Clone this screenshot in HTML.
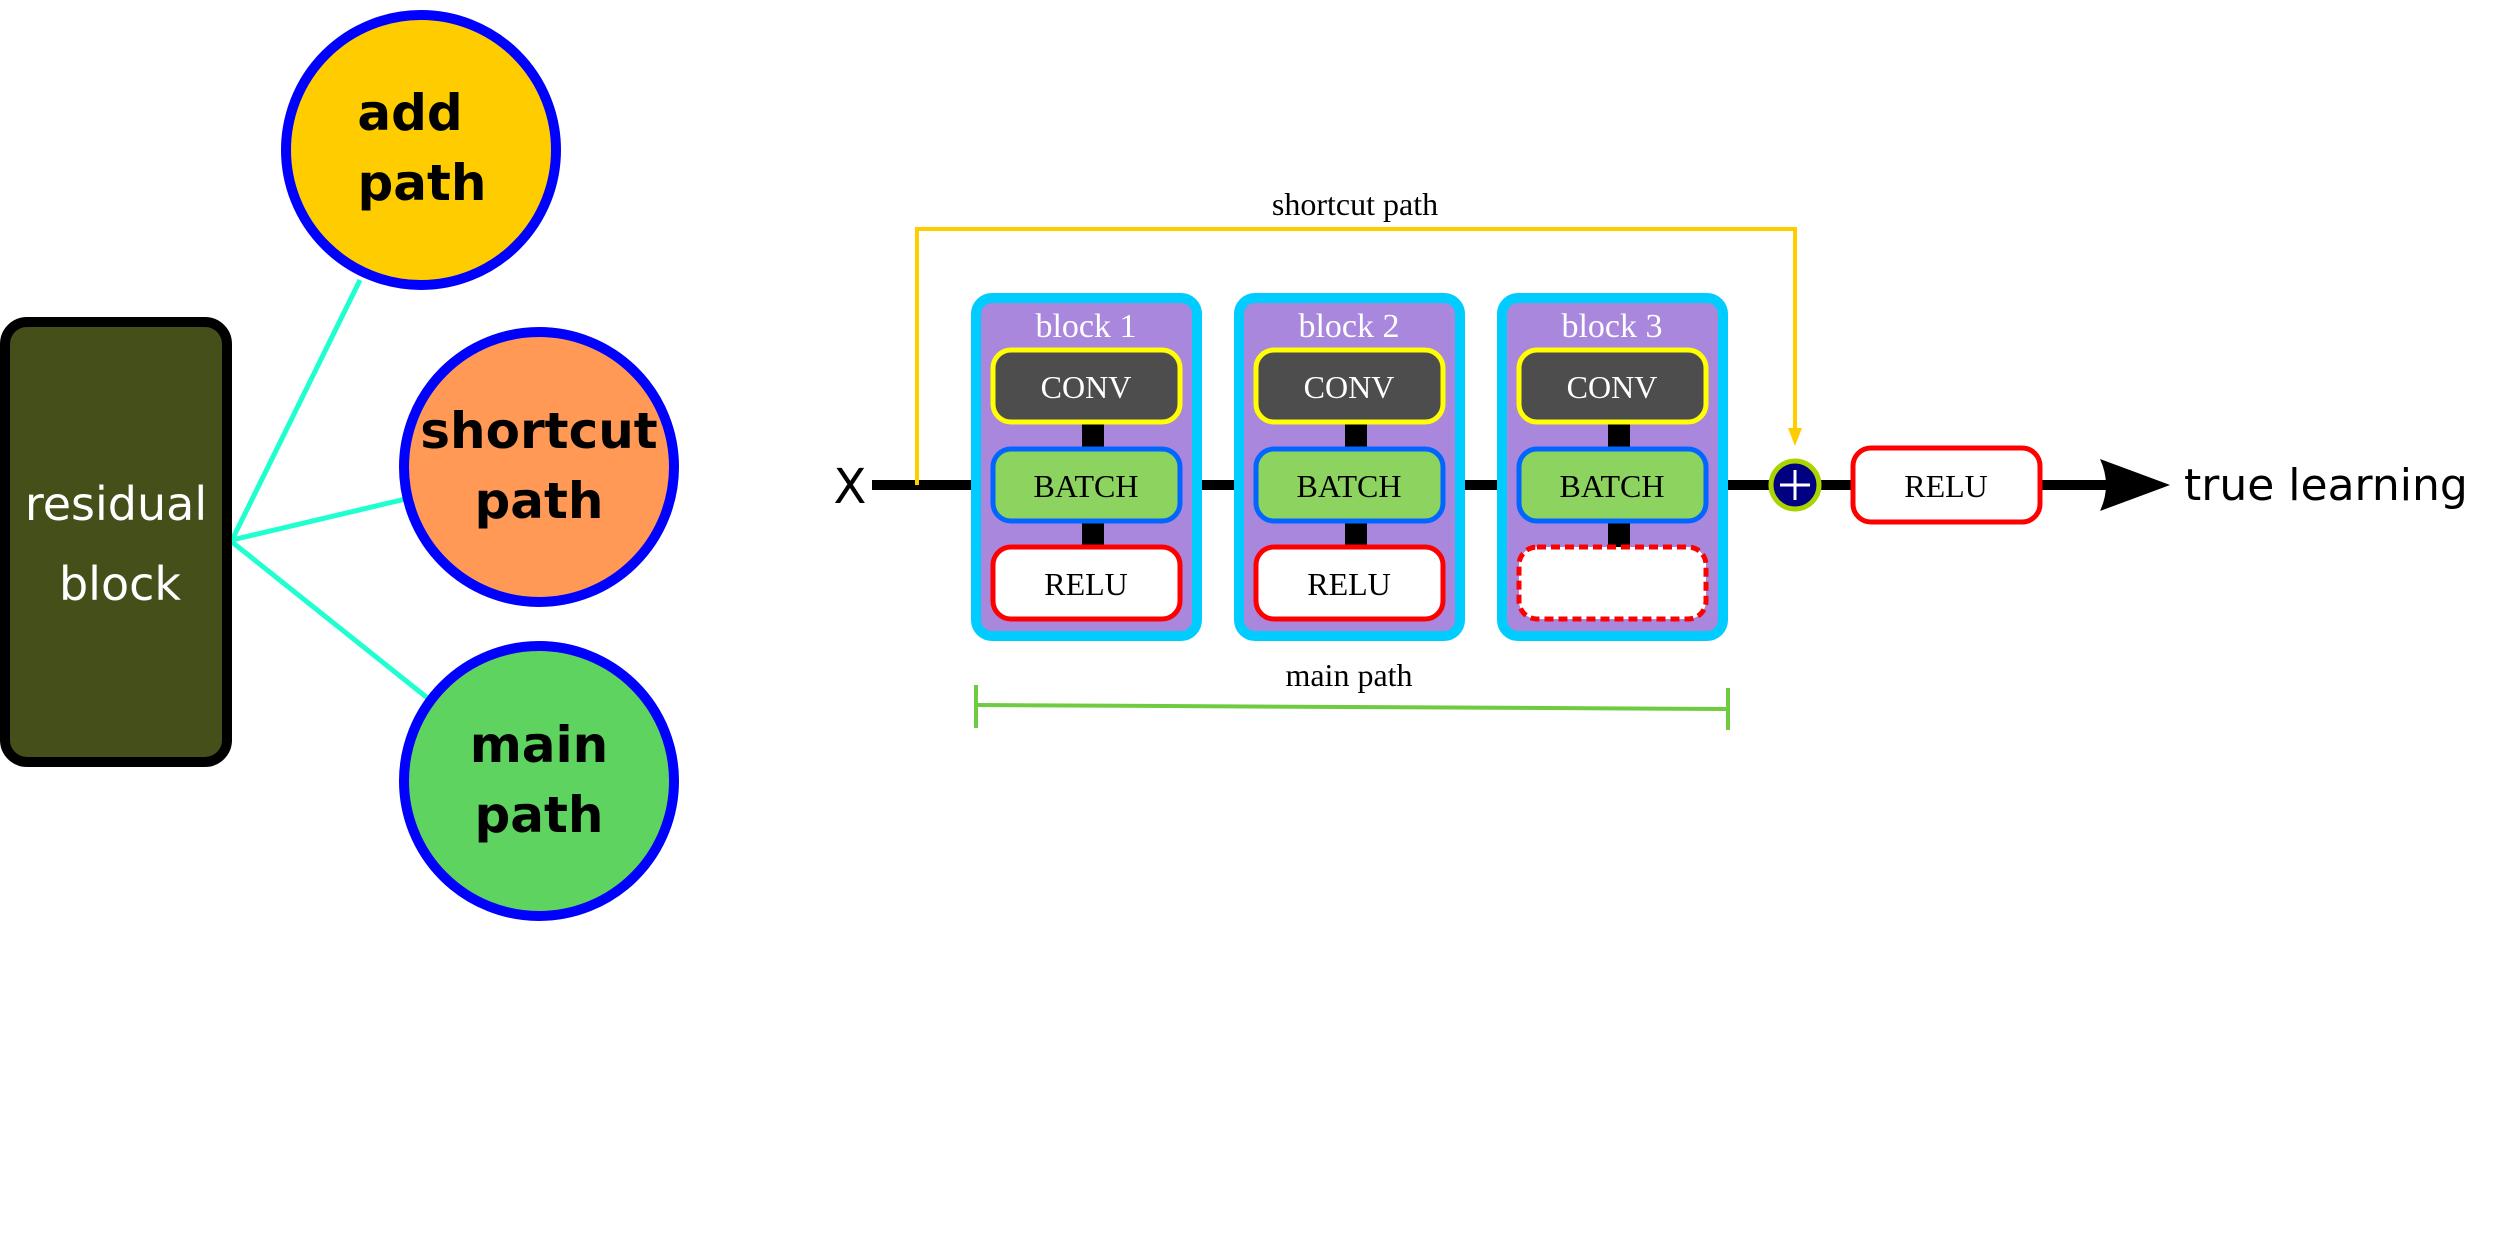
<!DOCTYPE html>
<html><head><meta charset="utf-8"><style>html,body{margin:0;padding:0;background:#fff}svg{display:block}</style></head>
<body>
<svg width="2500" height="1240" viewBox="0 0 2500 1240" xmlns="http://www.w3.org/2000/svg">
<!-- left part -->
<g stroke="#1fffd0" stroke-width="5" fill="none">
<line x1="232" y1="540" x2="360" y2="280"/>
<line x1="232" y1="540" x2="410" y2="498"/>
<line x1="232" y1="542" x2="430" y2="700"/>
</g>
<rect x="5" y="322" width="222" height="440" rx="22" fill="#454f19" stroke="#000" stroke-width="10"/>
<g font-family="'DejaVu Sans','Liberation Sans',sans-serif" font-size="46" fill="#fff" text-anchor="middle">
<text x="116" y="520">residual</text><text x="120" y="600">block</text>
</g>
<circle cx="421" cy="150" r="135" fill="#ffcc00" stroke="#0000ff" stroke-width="10"/>
<circle cx="539" cy="467" r="135" fill="#ff9955" stroke="#0000ff" stroke-width="10"/>
<circle cx="539" cy="781" r="135" fill="#5fd35f" stroke="#0000ff" stroke-width="10"/>
<g font-family="'DejaVu Sans','Liberation Sans',sans-serif" font-weight="bold" font-size="50" fill="#000" text-anchor="middle">
<text x="410" y="130">add</text><text x="422" y="200">path</text>
<text x="539" y="448">shortcut</text><text x="539" y="518">path</text>
<text x="539" y="762">main</text><text x="539" y="832">path</text>
</g>
<!-- right part -->
<text x="850" y="503" font-family="'DejaVu Sans','Liberation Sans',sans-serif" font-size="48" text-anchor="middle">X</text>
<line x1="872" y1="485" x2="2110" y2="485" stroke="#000" stroke-width="10"/>
<path d="M2100 459 L2170 485 L2100 511 Q2112 485 2100 459 Z" fill="#000"/>
<text x="2184" y="500" font-family="'DejaVu Sans','Liberation Sans',sans-serif" font-size="44">true learning</text>
<polyline points="917,485 917,229 1795,229 1795,432" fill="none" stroke="#ffcc00" stroke-width="4"/>
<path d="M1788 428 L1802 428 L1795 446 Z" fill="#ffcc00"/>
<text x="1355" y="215" font-family="'Liberation Serif',serif" font-size="32" text-anchor="middle">shortcut path</text>
<g font-family="'Liberation Serif',serif" text-anchor="middle">
<g transform="translate(0,0)">
<rect x="976" y="298" width="221" height="338" rx="16" fill="#a887dd" stroke="#00ccff" stroke-width="10"/>
<text x="1086" y="337" font-size="34" fill="#fff">block 1</text>
<rect x="1082" y="420" width="22" height="30" fill="#000"/><rect x="1082" y="520" width="22" height="30" fill="#000"/>
<rect x="993" y="350" width="187" height="72" rx="18" fill="#4d4d4d" stroke="#ffff00" stroke-width="5"/>
<text x="1086" y="398" font-size="32" fill="#fff">CONV</text>
<rect x="993" y="449" width="187" height="72" rx="18" fill="#8dd35f" stroke="#0066ff" stroke-width="5"/>
<text x="1086" y="497" font-size="32">BATCH</text>
<rect x="993" y="547" width="187" height="72" rx="18" fill="#fff" stroke="#ff0000" stroke-width="5"/>
<text x="1086" y="595" font-size="32">RELU</text>
</g>
<g transform="translate(263,0)">
<rect x="976" y="298" width="221" height="338" rx="16" fill="#a887dd" stroke="#00ccff" stroke-width="10"/>
<text x="1086" y="337" font-size="34" fill="#fff">block 2</text>
<rect x="1082" y="420" width="22" height="30" fill="#000"/><rect x="1082" y="520" width="22" height="30" fill="#000"/>
<rect x="993" y="350" width="187" height="72" rx="18" fill="#4d4d4d" stroke="#ffff00" stroke-width="5"/>
<text x="1086" y="398" font-size="32" fill="#fff">CONV</text>
<rect x="993" y="449" width="187" height="72" rx="18" fill="#8dd35f" stroke="#0066ff" stroke-width="5"/>
<text x="1086" y="497" font-size="32">BATCH</text>
<rect x="993" y="547" width="187" height="72" rx="18" fill="#fff" stroke="#ff0000" stroke-width="5"/>
<text x="1086" y="595" font-size="32">RELU</text>
</g>
<g transform="translate(526,0)">
<rect x="976" y="298" width="221" height="338" rx="16" fill="#a887dd" stroke="#00ccff" stroke-width="10"/>
<text x="1086" y="337" font-size="34" fill="#fff">block 3</text>
<rect x="1082" y="420" width="22" height="30" fill="#000"/><rect x="1082" y="520" width="22" height="30" fill="#000"/>
<rect x="993" y="350" width="187" height="72" rx="18" fill="#4d4d4d" stroke="#ffff00" stroke-width="5"/>
<text x="1086" y="398" font-size="32" fill="#fff">CONV</text>
<rect x="993" y="449" width="187" height="72" rx="18" fill="#8dd35f" stroke="#0066ff" stroke-width="5"/>
<text x="1086" y="497" font-size="32">BATCH</text>
<rect x="993" y="547" width="187" height="72" rx="18" fill="#fff" stroke="#ff0000" stroke-width="5" stroke-dasharray="9,5"/>
</g>
</g>
<circle cx="1795" cy="485" r="24" fill="#000080" stroke="#aad400" stroke-width="5"/>
<path d="M1795 470 V500 M1780 485 H1810" stroke="#fff" stroke-width="3"/>
<rect x="1853" y="448" width="187" height="74" rx="18" fill="#fff" stroke="#ff0000" stroke-width="5"/>
<text x="1946" y="497" font-family="'Liberation Serif',serif" font-size="32" text-anchor="middle">RELU</text>
<g stroke="#6fcb3f" stroke-width="4">
<line x1="976" y1="705" x2="1728" y2="709"/>
<line x1="976" y1="685" x2="976" y2="728"/>
<line x1="1728" y1="688" x2="1728" y2="730"/>
</g>
<text x="1349" y="686" font-family="'Liberation Serif',serif" font-size="32" text-anchor="middle">main path</text>
</svg>
</body></html>
